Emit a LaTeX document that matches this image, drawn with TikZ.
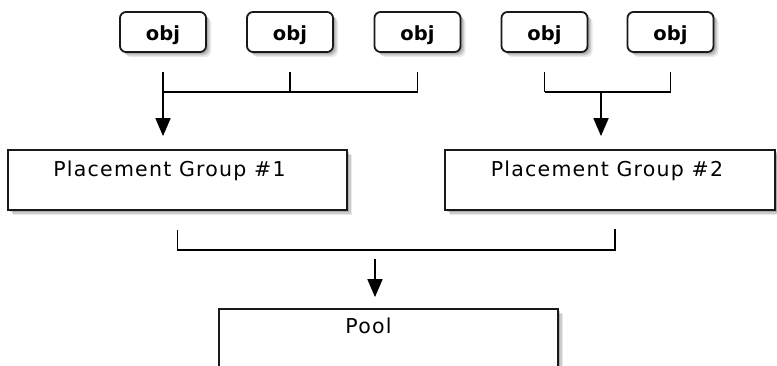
\documentclass[tikz,border=0pt]{standalone}
\usepackage{fontspec}
\setmainfont{DejaVu Sans}
\usetikzlibrary{arrows.meta,shadows}

\tikzset{
  wire/.style={draw=black, line width=1.8pt},
  flow/.style={wire, -{Triangle[length=18pt,width=15pt]}},
  shade/.style={
    general shadow={shadow xshift=5pt, shadow yshift=-5pt, opacity=0.12, fill=black!70},
    general shadow={shadow xshift=3.5pt, shadow yshift=-3.5pt, opacity=0.18, fill=black!70},
    general shadow={shadow xshift=2pt, shadow yshift=-2pt, opacity=0.25, fill=black!70}},
  objbox/.style={draw=black!90, line width=1.8pt, rounded corners=6pt, fill=white,
    minimum width=86pt, minimum height=40pt, inner sep=0pt, shade},
  groupbox/.style={draw=black!90, line width=1.8pt, fill=white, inner sep=0pt, shade},
  objtext/.style={font=\fontsize{19.5}{22}\selectfont\bfseries, inner sep=0pt, anchor=base},
  grouptext/.style={font=\fontsize{20.5}{24}\selectfont\addfontfeature{LetterSpace=6}, inner sep=0pt, anchor=base},
}

\begin{document}
\begin{tikzpicture}[x=1pt, y=-1pt]
  \useasboundingbox (0,0) rectangle (777,365);
  \clip (0,0) rectangle (777,365);
  \fill[white] (0,0) rectangle (777,365);

  % objects
  \foreach \n/\x in {o1/163, o2/290, o3/417.5, o4/544.5, o5/670.5}
    \node[objbox, label={[objtext, yshift=-29.5pt]north:obj}] (\n) at (\x,32) {};

  % placement groups
  \node[groupbox, minimum width=339pt, minimum height=60pt,
        label={[grouptext, xshift=-8pt, yshift=-27pt]north:Placement Group \#1}]
        (pg1) at (177.5,180) {};
  \node[groupbox, minimum width=330pt, minimum height=60pt,
        label={[grouptext, xshift=-3pt, yshift=-27pt]north:Placement Group \#2}]
        (pg2) at (610,180) {};

  % pool (runs past the lower edge)
  \node[groupbox, minimum width=339pt, minimum height=80pt,
        label={[grouptext, xshift=-20pt, yshift=-25pt]north:Pool}]
        (pool) at (388.5,349) {};

  % objects 1-3 into group 1
  \foreach \n in {o1,o2,o3}
    \draw[wire] ([yshift=-19pt]\n.south) -- ([yshift=-39pt]\n.south);
  \draw[wire] ([yshift=-39pt]o1.south) -- ([yshift=-39pt]o3.south);
  \draw[flow, shorten >=13pt] ([yshift=-39pt]o1.south) -- (o1 |- pg1.north);

  % objects 4-5 into group 2
  \foreach \n in {o4,o5}
    \draw[wire] ([yshift=-19pt]\n.south) -- ([yshift=-39pt]\n.south);
  \draw[wire] ([yshift=-39pt]o4.south) -- ([yshift=-39pt]o5.south);
  \coordinate (m2) at (601,91);
  \draw[flow, shorten >=13pt] (m2) -- (m2 |- pg2.north);

  % groups into pool
  \coordinate (g1) at ([yshift=-19pt]pg1.south);
  \coordinate (g2) at (615,229);
  \draw[wire] (g1) -- ++(0,20) -| (g2);
  \coordinate (m3) at (375,259);
  \draw[flow, shorten >=11pt] (m3) -- (m3 |- pool.north);
\end{tikzpicture}
\end{document}
